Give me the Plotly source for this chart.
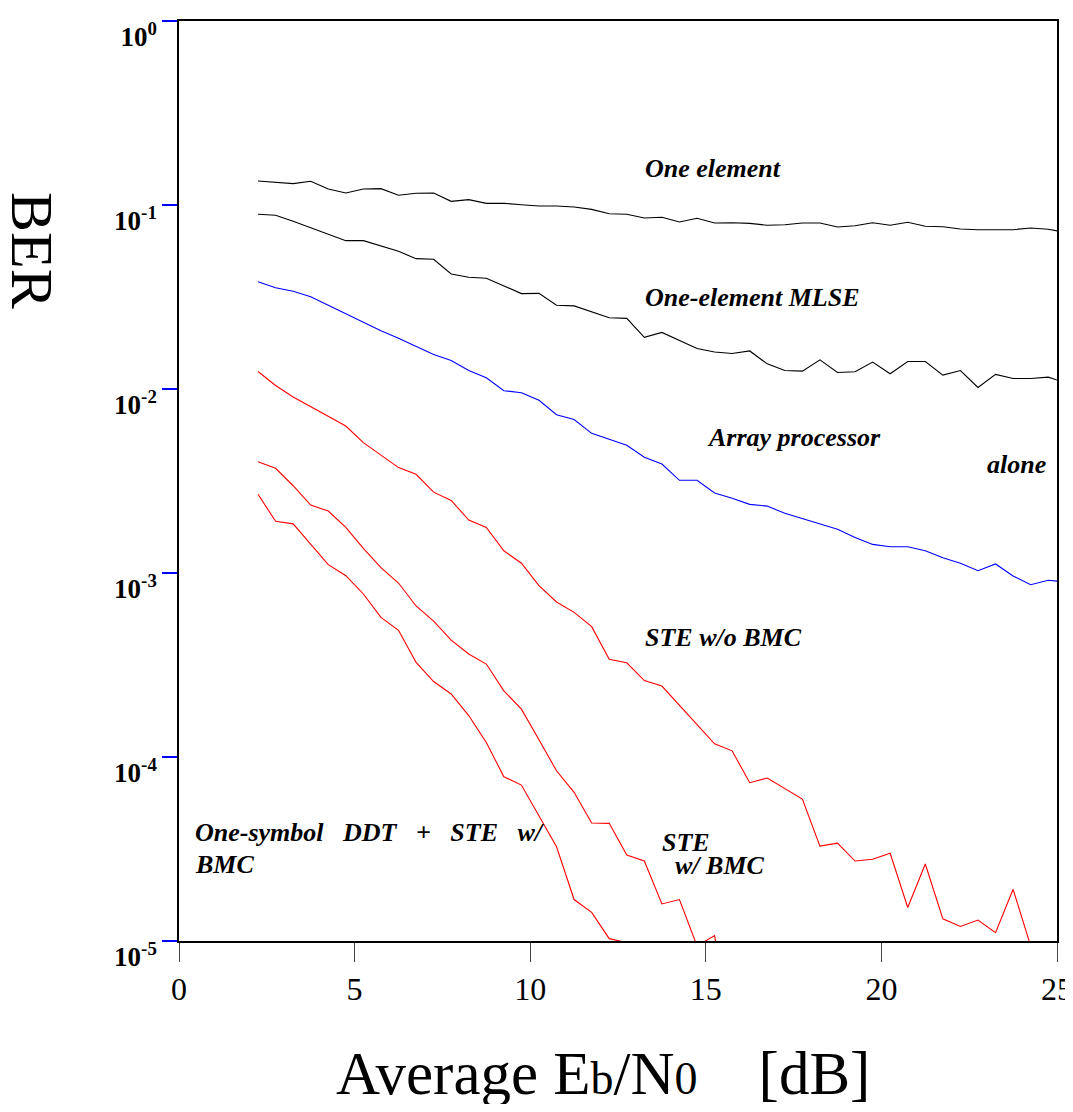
import plotly.graph_objects as go

# Eb/N0 grid [dB]
ebn0 = [2.25, 2.75, 3.25, 3.75, 4.25, 4.75, 5.25, 5.75, 6.25, 6.75,
        7.25, 7.75, 8.25, 8.75, 9.25, 9.75, 10.25, 10.75, 11.25, 11.75,
        12.25, 12.75, 13.25, 13.75, 14.25, 14.75, 15.25, 15.75, 16.25, 16.75,
        17.25, 17.75, 18.25, 18.75, 19.25, 19.75, 20.25, 20.75, 21.25, 21.75,
        22.25, 22.75, 23.25, 23.75, 24.25, 24.75, 25.25]

one_element = [0.1350, 0.1334, 0.1306, 0.1345, 0.1222, 0.1162, 0.1222, 0.1227, 0.1129, 0.1158,
               0.1162, 0.1047, 0.1069, 0.1021, 0.1021, 0.1004, 0.0988, 0.0988, 0.0975, 0.0947,
               0.0897, 0.0890, 0.0850, 0.0858, 0.0808, 0.0847, 0.0798, 0.0801, 0.0795, 0.0776,
               0.0781, 0.0798, 0.0798, 0.0760, 0.0772, 0.0801, 0.0776, 0.0805, 0.0766, 0.0762,
               0.0741, 0.0734, 0.0734, 0.0734, 0.0750, 0.0738, 0.0710]

one_element_mlse = [0.0890, 0.0879, 0.0815, 0.0752, 0.0696, 0.0640, 0.0640, 0.0601, 0.0560, 0.0511,
                    0.0507, 0.0422, 0.0405, 0.0400, 0.0364, 0.0330, 0.0331, 0.0285, 0.0283, 0.0262,
                    0.0244, 0.0242, 0.0191, 0.0203, 0.0183, 0.0166, 0.0159, 0.0156, 0.0161, 0.0137,
                    0.0126, 0.0125, 0.0144, 0.0123, 0.0124, 0.0140, 0.0121, 0.0141, 0.0141, 0.0119,
                    0.0126, 0.0102, 0.0120, 0.0114, 0.0114, 0.0116, 0.0108]

array_processor = [0.0383, 0.0355, 0.0340, 0.0317, 0.0285, 0.0257, 0.0230, 0.0207, 0.0189, 0.0171,
                   0.0154, 0.0143, 0.0126, 0.0115, 0.00979, 0.00955, 0.00868, 0.00725, 0.00683, 0.00574,
                   0.00535, 0.00495, 0.00426, 0.00391, 0.00319, 0.00319, 0.00272, 0.00255, 0.00236, 0.00231,
                   0.00211, 0.00197, 0.00184, 0.00173, 0.00156, 0.00143, 0.00139, 0.00139, 0.00132, 0.00121,
                   0.00113, 0.00103, 0.00112, 0.000963, 0.000864, 0.000913, 0.000894]

ste_wo_bmc = [0.01245, 0.01045, 0.00905, 0.00801, 0.00713, 0.00629, 0.00511, 0.00438, 0.00374, 0.00344,
              0.00275, 0.00248, 0.00194, 0.00177, 0.00132, 0.00113, 0.000853, 0.000696, 0.000611, 0.000511,
              0.000340, 0.000325, 0.000260, 0.000243, 0.000191, 0.000150, 0.000118, 0.000108, 7.25e-5, 7.69e-5,
              6.76e-5, 5.91e-5, 3.28e-5, 3.40e-5, 2.72e-5, 2.78e-5, 3.00e-5, 1.52e-5, 2.62e-5, 1.32e-5,
              1.20e-5, 1.30e-5, 1.11e-5, 1.91e-5, 9.4e-6]

ste_w_bmc = [0.00402, 0.00371, 0.00298, 0.00234, 0.00217, 0.00177, 0.00136, 0.00107, 0.000882, 0.000662,
             0.000548, 0.000432, 0.000363, 0.000320, 0.000229, 0.000182, 0.000124, 8.42e-5, 6.43e-5, 4.38e-5,
             4.36e-5, 2.93e-5, 2.72e-5, 1.59e-5, 1.68e-5, 9.4e-6, 1.07e-5, 3e-6]

ddt_ste_w_bmc = [0.00268, 0.00191, 0.00185, 0.00144, 0.00111, 0.000967, 0.000769, 0.000574, 0.000488, 0.000327,
                 0.000257, 0.000220, 0.000168, 0.000120, 7.81e-5, 7.04e-5, 4.80e-5, 3.25e-5, 1.68e-5, 1.43e-5,
                 1.03e-5, 9.8e-6, 3e-6]

y_tickvals = [1, 1e-1, 1e-2, 1e-3, 1e-4, 1e-5]
y_ticktext = ["<b>10<sup>0</sup></b>", "<b>10<sup>-1</sup></b>", "<b>10<sup>-2</sup></b>",
              "<b>10<sup>-3</sup></b>", "<b>10<sup>-4</sup></b>", "<b>10<sup>-5</sup></b>"]
x_tickvals = [0, 5, 10, 15, 20, 25]

FONT = "Liberation Serif"

series = [
    (one_element, "black", "One element"),
    (one_element_mlse, "black", "One-element MLSE"),
    (array_processor, "blue", "Array processor alone"),
    (ste_wo_bmc, "red", "STE w/o BMC"),
    (ste_w_bmc, "red", "STE w/ BMC"),
    (ddt_ste_w_bmc, "red", "One-symbol DDT + STE w/ BMC"),
]

fig = go.Figure()
for vals, col, name in series:
    fig.add_trace(go.Scatter(x=ebn0[:len(vals)], y=vals, mode="lines", name=name,
                             line=dict(color=col, width=1.1)))

NB = "\u00a0"
labels = [
    ("One element", 13.2, -0.799),
    ("One-element MLSE", 13.2, -1.505),
    ("Array processor", 14.98, -2.266),
    ("alone", 22.95, -2.408),
    ("STE w/o BMC", 13.21, -3.353),
    ("STE", 13.7, -4.467),
    ("w/ BMC", 14.07, -4.592),
    ("One-symbol" + NB * 3 + "DDT" + NB * 3 + "+" + NB * 3 + "STE" + NB * 3 + "w/", 0.40, -4.408),
    ("BMC", 0.40, -4.582),
]
annotations = []
for t, ax_, ay_ in labels:
    annotations.append(dict(text="<b><i>" + t + "</i></b>", x=ax_, y=ay_, xref="x", yref="y",
                            xanchor="left", yanchor="middle", showarrow=False,
                            font=dict(family=FONT, size=26, color="black")))

# page body has an 8px margin: plot area spans 171..1049 inside the figure
PW = 878.0
PH = 920.0
annotations.append(dict(text="BER", x=(32 - 179) / PW, y=(941 - 250) / PH, xref="paper", yref="paper",
                        xanchor="center", yanchor="middle", textangle=90, showarrow=False,
                        font=dict(family=FONT, size=60, color="black")))
sub = "<span style='font-size:46px'>{}</span>"
annotations.append(dict(text="Average E" + sub.format("b") + "/N" + sub.format("0") + NB * 4 + "[dB]",
                        x=(603 - 179) / PW, y=(941 - 1073) / PH, xref="paper", yref="paper",
                        xanchor="center", yanchor="middle", showarrow=False,
                        font=dict(family=FONT, size=61, color="black")))

fig.update_layout(
    width=1065, height=1096,
    margin=dict(l=171, r=16, t=13, b=163, autoexpand=False),
    paper_bgcolor="white", plot_bgcolor="white",
    showlegend=False,
    annotations=annotations,
    font=dict(family=FONT, color="black"),
)
fig.update_xaxes(range=[0, 25], tickmode="array", tickvals=x_tickvals,
                 ticks="outside", ticklen=19, tickwidth=1, tickcolor="#444",
                 showline=True, linecolor="black", linewidth=2, mirror=True,
                 showgrid=False, zeroline=False, ticklabeloverflow="allow",
                 automargin=False,
                 tickfont=dict(family=FONT, size=32, color="black"))
fig.update_yaxes(type="log", range=[-5, 0], tickmode="array", tickvals=y_tickvals,
                 ticktext=y_ticktext, ticks="outside", ticklen=15, tickwidth=1.5,
                 tickcolor="blue", showline=True, linecolor="black", linewidth=1.5,
                 mirror=True, showgrid=False, zeroline=False, ticklabelshift=16,
                 automargin=False,
                 tickfont=dict(family=FONT, size=27, color="black"))

fig.write_html("out.html", config={"responsive": False})
